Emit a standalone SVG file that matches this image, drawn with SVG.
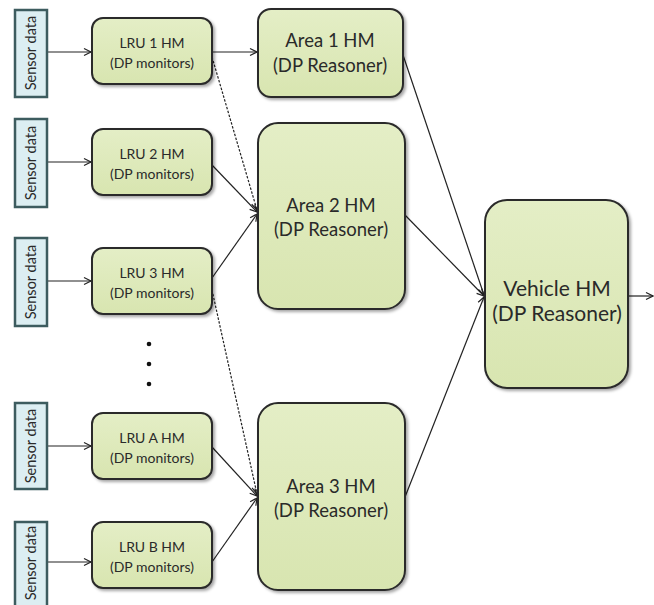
<svg xmlns="http://www.w3.org/2000/svg" width="654" height="605" viewBox="0 0 654 605">
<style>
.box{fill:url(#g);stroke:#2b2b2b;stroke-width:2;filter:url(#sh)}
.sen{fill:#dcEEF2;stroke:#3d5c5f;stroke-width:2.5}
.t{font-family:Lato,"Open Sans",sans-serif;fill:#2a2a2a;text-anchor:middle}
.s{font-size:14px}
.n{font-size:14.5px}
.a{font-size:18.5px}
.v{font-size:21px}
.c{stroke:#222;stroke-width:1.2;fill:none;marker-end:url(#ar)}
.d{stroke-dasharray:2.5 1.5}
</style>
<defs>
<linearGradient id="g" x1="0" y1="0" x2="0" y2="1">
<stop offset="0" stop-color="#e4eec6"/>
<stop offset="1" stop-color="#d8e5b0"/>
</linearGradient>
<filter id="sh" x="-10%" y="-10%" width="130%" height="130%">
<feDropShadow dx="2" dy="2" stdDeviation="1.5" flood-color="#000" flood-opacity="0.35"/>
</filter>
<marker id="ar" markerWidth="10" markerHeight="10" refX="8" refY="5" orient="auto" markerUnits="userSpaceOnUse">
<path d="M1,1.5 L8,5 L1,8.5" fill="none" stroke="#222" stroke-width="1.2"/>
</marker>
</defs>

<g id="connectors">
<line class="c" x1="47" y1="52" x2="91" y2="52"/>
<line class="c" x1="47" y1="162" x2="91" y2="162"/>
<line class="c" x1="47" y1="281" x2="91" y2="281"/>
<line class="c" x1="47" y1="446" x2="91" y2="446"/>
<line class="c" x1="47" y1="562" x2="91" y2="562"/>
<line class="c" x1="212" y1="52" x2="257" y2="52"/>
<line class="c d" x1="212" y1="57" x2="257" y2="210"/>
<line class="c" x1="212" y1="165" x2="257" y2="212"/>
<line class="c" x1="212" y1="278" x2="257" y2="214"/>
<line class="c d" x1="212" y1="290" x2="257" y2="494"/>
<line class="c" x1="212" y1="447" x2="257" y2="496"/>
<line class="c" x1="212" y1="562" x2="257" y2="498"/>
<line class="c" x1="403" y1="55" x2="484" y2="295"/>
<line class="c" x1="405" y1="215" x2="484" y2="296"/>
<line class="c" x1="405" y1="497" x2="484" y2="297"/>
<line class="c" x1="628" y1="296" x2="653" y2="296"/>
</g>

<g id="sensor1"><rect class="sen" x="15" y="10" width="32" height="87"/><text class="t n" transform="translate(36,53) rotate(-90)">Sensor data</text></g>
<g id="sensor2"><rect class="sen" x="15" y="119" width="32" height="88"/><text class="t n" transform="translate(36,163) rotate(-90)">Sensor data</text></g>
<g id="sensor3"><rect class="sen" x="15" y="238" width="32" height="88"/><text class="t n" transform="translate(36,282) rotate(-90)">Sensor data</text></g>
<g id="sensorA"><rect class="sen" x="15" y="403" width="32" height="86"/><text class="t n" transform="translate(36,446) rotate(-90)">Sensor data</text></g>
<g id="sensorB"><rect class="sen" x="15" y="522" width="32" height="86"/><text class="t n" transform="translate(36,563) rotate(-90)">Sensor data</text></g>

<g id="lru1"><rect class="box" x="92" y="18" width="120" height="66" rx="11"/><text class="t s" x="152" y="48">LRU 1 HM</text><text class="t s" x="152" y="68">(DP monitors)</text></g>
<g id="lru2"><rect class="box" x="92" y="129" width="120" height="66" rx="11"/><text class="t s" x="152" y="159">LRU 2 HM</text><text class="t s" x="152" y="179">(DP monitors)</text></g>
<g id="lru3"><rect class="box" x="92" y="248" width="120" height="66" rx="11"/><text class="t s" x="152" y="278">LRU 3 HM</text><text class="t s" x="152" y="298">(DP monitors)</text></g>
<g id="dots"><circle cx="149" cy="344" r="2.3" fill="#111"/><circle cx="149" cy="364" r="2.3" fill="#111"/><circle cx="149" cy="384" r="2.3" fill="#111"/></g>
<g id="lruA"><rect class="box" x="92" y="413" width="120" height="66" rx="11"/><text class="t s" x="152" y="443">LRU A HM</text><text class="t s" x="152" y="463">(DP monitors)</text></g>
<g id="lruB"><rect class="box" x="92" y="522" width="120" height="66" rx="11"/><text class="t s" x="152" y="552">LRU B HM</text><text class="t s" x="152" y="572">(DP monitors)</text></g>

<g id="area1"><rect class="box" x="258" y="9" width="145" height="88" rx="13"/><text class="t a" x="330" y="47">Area 1 HM</text><text class="t a" x="330" y="72">(DP Reasoner)</text></g>
<g id="area2"><rect class="box" x="258" y="123" width="147" height="186" rx="20"/><text class="t a" x="331" y="212">Area 2 HM</text><text class="t a" x="331" y="236">(DP Reasoner)</text></g>
<g id="area3"><rect class="box" x="258" y="403" width="147" height="187" rx="20"/><text class="t a" x="331" y="493">Area 3 HM</text><text class="t a" x="331" y="517">(DP Reasoner)</text></g>
<g id="vehicle"><rect class="box" x="485" y="200" width="143" height="188" rx="22"/><text class="t v" x="557" y="296">Vehicle HM</text><text class="t v" x="557" y="321">(DP Reasoner)</text></g>
</svg>
